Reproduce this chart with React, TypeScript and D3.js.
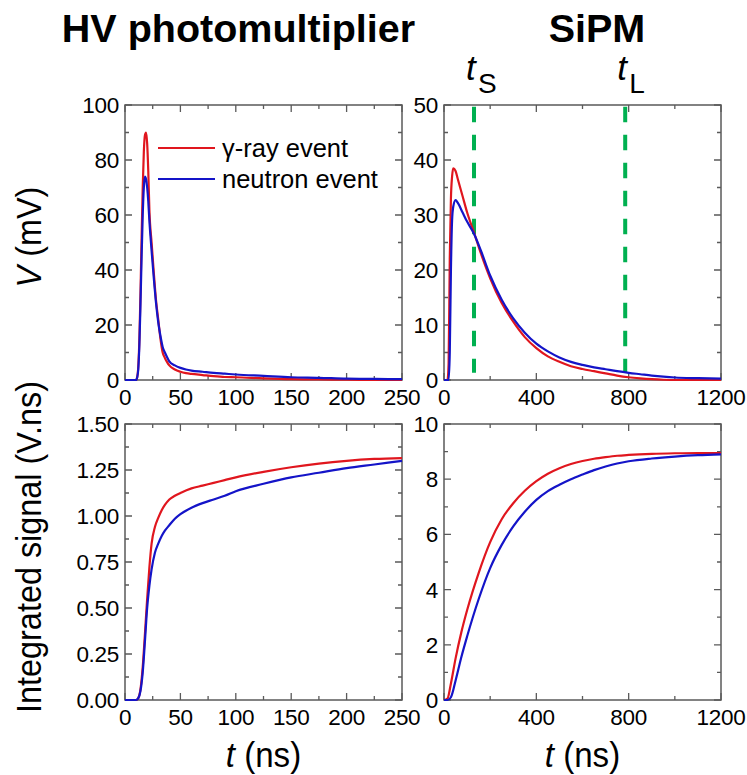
import React from "react";
import * as d3 from "d3";

// ---------- data ----------
const pmtTime = [0,5,10,11,12,13,14,15,16,17,18,19,20,21,22,24,26,28,30,32,34,36,38,40,45,50,55,60,70,80,90,100,125,150,175,200,225,250];
const pmtGammaV = [0,0,0,1,5,15,32,52,70,83,89,90,86,76,62,50,39,29,22,15,10,8,6.5,5.3,3.8,3.0,2.5,2.2,1.8,1.4,1.1,1.0,0.6,0.3,0.2,0.1,0.05,0];
const pmtNeutronV = [0,0,0,1,4,13,28,45,60,70,74,73,70,65,58,47,37,28,21,16,12,10,8.3,6.8,5.3,4.4,3.8,3.4,3.0,2.6,2.3,2.0,1.5,1.0,0.8,0.5,0.4,0.3];

const sipmTime = [0,10,15,20,25,30,35,40,50,60,80,100,130,160,200,250,300,350,400,450,500,550,600,650,700,750,800,850,900,950,1000,1100,1200];
const sipmGammaV = [0,0,0,3,22,33,37,38.5,38,36.5,33.5,30.5,26.8,23,18.5,14,10.6,7.8,5.8,4.3,3.3,2.5,2.0,1.6,1.2,0.8,0.5,0.3,0.15,0.05,0,0,0];
const sipmNeutronV = [0,0,0,0,5,20,29,31.5,32.7,32.2,30.5,28.8,26.6,23.5,19,14.6,11.2,8.6,6.6,5.2,4.1,3.3,2.75,2.3,1.95,1.6,1.3,1.05,0.8,0.6,0.45,0.33,0.25];

const pmtIntTime = [0,10,12,14,16,18,20,22,24,27,30,33,36,40,45,50,60,70,80,90,100,125,150,175,200,225,250];
const pmtGammaInt = [0,0,0.01,0.06,0.18,0.36,0.55,0.72,0.85,0.94,0.99,1.03,1.06,1.09,1.11,1.125,1.15,1.165,1.18,1.195,1.21,1.24,1.265,1.285,1.30,1.31,1.315];
const pmtNeutronInt = [0,0,0.01,0.05,0.15,0.32,0.5,0.62,0.71,0.80,0.85,0.89,0.92,0.95,0.985,1.01,1.045,1.07,1.09,1.11,1.135,1.175,1.21,1.235,1.26,1.28,1.30];

const sipmIntTime = [0,15,30,50,75,100,150,200,250,300,350,400,450,500,550,600,650,700,750,800,900,1000,1100,1200];
const sipmGammaInt = [0,0.05,0.6,1.5,2.45,3.25,4.6,5.72,6.55,7.13,7.58,7.93,8.2,8.4,8.55,8.66,8.74,8.8,8.85,8.88,8.92,8.94,8.95,8.95];
const sipmNeutronInt = [0,0,0.1,0.7,1.55,2.3,3.65,4.78,5.62,6.29,6.82,7.25,7.57,7.8,8.0,8.17,8.33,8.46,8.57,8.65,8.75,8.82,8.87,8.9];

const pmtTimeTicks = [0,50,100,150,200,250];
const sipmTimeTicks = [0,400,800,1200];
const pmtVTicks = [0,20,40,60,80,100];
const sipmVTicks = [0,10,20,30,40,50];
const pmtIntTicks = [0,0.25,0.5,0.75,1.0,1.25,1.5];
const sipmIntTicks = [0,2,4,6,8,10];

const gateTimes = [130, 785];
const gateLabels = ["S", "L"];
const gateSpan = [1.3, 49.7];

const seriesNames = ["γ-ray event", "neutron event"];
const RED = "#e0161e";
const BLUE = "#1414c8";
const GREEN = "#00b050";
const FRAME = "#5a5a5a";
const FONT = "'Liberation Sans', Arial, Helvetica, sans-serif";

type PanelProps = {
  x0: number; x1: number; y0: number; y1: number;
  xDomain: [number, number]; yDomain: [number, number];
  xTicks: number[]; yTicks: number[];
  yFmt: (v: number) => string;
  t: number[]; a: number[]; b: number[];
  children?: (xs: d3.ScaleLinear<number, number>, ys: d3.ScaleLinear<number, number>) => React.ReactNode;
};

function mids(ticks: number[]) {
  const out: number[] = [];
  for (let i = 0; i < ticks.length - 1; i++) out.push((ticks[i] + ticks[i + 1]) / 2);
  return out;
}

function Panel(p: PanelProps) {
  const xs = d3.scaleLinear().domain(p.xDomain).range([p.x0, p.x1]);
  const ys = d3.scaleLinear().domain(p.yDomain).range([p.y1, p.y0]);
  const line = (vals: number[]) =>
    d3.line<number>().x((_, i) => xs(p.t[i])).y((v) => ys(v)).curve(d3.curveMonotoneX)(vals) || "";
  const majL = 7, minL = 4;
  const xMin = mids(p.xTicks), yMin = mids(p.yTicks);
  const tickPaths: string[] = [];
  p.xTicks.forEach((v) => {
    const x = xs(v);
    tickPaths.push(`M${x},${p.y1}v${-majL}M${x},${p.y0}v${majL}`);
  });
  xMin.forEach((v) => {
    const x = xs(v);
    tickPaths.push(`M${x},${p.y1}v${-minL}M${x},${p.y0}v${minL}`);
  });
  p.yTicks.forEach((v) => {
    const y = ys(v);
    tickPaths.push(`M${p.x0},${y}h${majL}M${p.x1},${y}h${-majL}`);
  });
  yMin.forEach((v) => {
    const y = ys(v);
    tickPaths.push(`M${p.x0},${y}h${minL}M${p.x1},${y}h${-minL}`);
  });
  return (
    <g>
      <path d={tickPaths.join("")} stroke={FRAME} strokeWidth={1.3} fill="none" />
      <rect x={p.x0} y={p.y0} width={p.x1 - p.x0} height={p.y1 - p.y0} fill="none" stroke={FRAME} strokeWidth={1.5} />
      {p.children ? p.children(xs, ys) : null}
      <path d={line(p.a)} stroke={RED} strokeWidth={2.2} fill="none" strokeLinejoin="round" />
      <path d={line(p.b)} stroke={BLUE} strokeWidth={2.2} fill="none" strokeLinejoin="round" />
      {p.xTicks.map((v) => (
        <text key={"xt" + v} x={xs(v)} y={p.y1 + 25} textAnchor="middle" fontSize={22.5} fontFamily={FONT} letterSpacing={-0.3}>
          {v}
        </text>
      ))}
      {p.yTicks.map((v) => (
        <text key={"yt" + v} x={p.x0 - 6} y={ys(v) + 8} textAnchor="end" fontSize={22.5} fontFamily={FONT} letterSpacing={-0.3}>
          {p.yFmt(v)}
        </text>
      ))}
    </g>
  );
}

export default function App() {
  const L = { x0: 125, x1: 402 };
  const R = { x0: 444, x1: 721 };
  const T = { y0: 105, y1: 380 };
  const B = { y0: 424, y1: 700 };
  const intFmt = (v: number) => String(v);
  return (
    <svg width={747} height={775} style={{ position: "absolute", left: 0, top: 0, background: "#fff" }} fontFamily={FONT}>
      <rect x={0} y={0} width={747} height={775} fill="#fff" />
      <text x={238.5} y={42} textAnchor="middle" fontSize={39.5} fontWeight="bold">HV photomultiplier</text>
      <text x={597} y={42} textAnchor="middle" fontSize={39.5} fontWeight="bold">SiPM</text>

      <Panel {...L} {...T} xDomain={[0, 250]} yDomain={[0, 100]} xTicks={pmtTimeTicks} yTicks={pmtVTicks}
        yFmt={intFmt} t={pmtTime} a={pmtGammaV} b={pmtNeutronV}>
        {() => (
          <g fontSize={25.5}>
            <line x1={158} x2={215} y1={148} y2={148} stroke={RED} strokeWidth={2.2} />
            <text x={222} y={157}>{seriesNames[0]}</text>
            <line x1={158} x2={215} y1={179} y2={179} stroke={BLUE} strokeWidth={2.2} />
            <text x={222} y={188}>{seriesNames[1]}</text>
          </g>
        )}
      </Panel>

      <Panel {...R} {...T} xDomain={[0, 1200]} yDomain={[0, 50]} xTicks={sipmTimeTicks} yTicks={sipmVTicks}
        yFmt={intFmt} t={sipmTime} a={sipmGammaV} b={sipmNeutronV}>
        {(xs, ys) => (
          <g>
            {gateTimes.map((g, i) => (
              <g key={"g" + i}>
                <line x1={xs(g)} x2={xs(g)} y1={ys(gateSpan[1])} y2={ys(gateSpan[0])} stroke={GREEN} strokeWidth={4} strokeDasharray="15.5 12.5" />
                <text x={xs(g) - 8} y={80} fontSize={35} fontStyle="italic">t</text>
                <text x={xs(g) + 4} y={93} fontSize={28}>{gateLabels[i]}</text>
              </g>
            ))}
          </g>
        )}
      </Panel>

      <Panel {...L} {...B} xDomain={[0, 250]} yDomain={[0, 1.5]} xTicks={pmtTimeTicks} yTicks={pmtIntTicks}
        yFmt={(v) => v.toFixed(2)} t={pmtIntTime} a={pmtGammaInt} b={pmtNeutronInt} />

      <Panel {...R} {...B} xDomain={[0, 1200]} yDomain={[0, 10]} xTicks={sipmTimeTicks} yTicks={sipmIntTicks}
        yFmt={intFmt} t={sipmIntTime} a={sipmGammaInt} b={sipmNeutronInt} />

      <text transform="translate(41,237) rotate(-90) scale(0.9,1)" textAnchor="middle" fontSize={36}>
        <tspan fontStyle="italic">V</tspan> (mV)
      </text>
      <text transform="translate(41,547) rotate(-90) scale(0.9,1)" textAnchor="middle" fontSize={36}>
        Integrated signal (V.ns)
      </text>
      <text transform="translate(263.5,767) scale(0.92,1)" textAnchor="middle" fontSize={36}>
        <tspan fontStyle="italic">t</tspan> (ns)
      </text>
      <text transform="translate(582.5,767) scale(0.92,1)" textAnchor="middle" fontSize={36}>
        <tspan fontStyle="italic">t</tspan> (ns)
      </text>
    </svg>
  );
}
